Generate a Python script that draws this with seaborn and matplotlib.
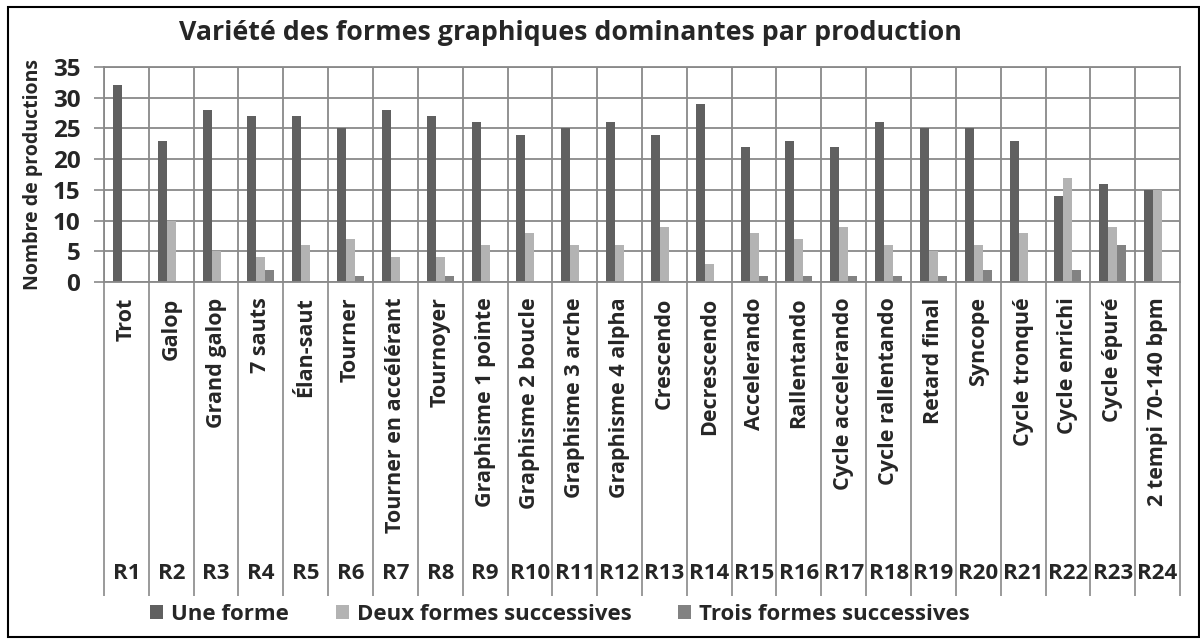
import matplotlib
matplotlib.use("Agg")
import matplotlib.pyplot as plt
import matplotlib.transforms as mtransforms
from matplotlib.patches import Rectangle
import seaborn as sns
import pandas as pd
import numpy as np

# Productions (codes and names)
codes = [f"R{i}" for i in range(1, 25)]
names = [
    "Trot", "Galop", "Grand galop", "7 sauts", "Élan-saut", "Tourner",
    "Tourner en accélérant", "Tournoyer", "Graphisme 1 pointe",
    "Graphisme 2 boucle", "Graphisme 3 arche", "Graphisme 4 alpha",
    "Crescendo", "Decrescendo", "Accelerando", "Rallentando",
    "Cycle accelerando", "Cycle rallentando", "Retard final", "Syncope",
    "Cycle tronqué", "Cycle enrichi", "Cycle épuré", "2 tempi 70-140 bpm",
]

# Number of productions per dominant graphic form
une_forme = [32, 23, 28, 27, 27, 25, 28, 27, 26, 24, 25, 26,
             24, 29, 22, 23, 22, 26, 25, 25, 23, 14, 16, 15]
deux_formes = [0, 10, 5, 4, 6, 7, 4, 4, 6, 8, 6, 6,
               9, 3, 8, 7, 9, 6, 5, 6, 8, 17, 9, 15]
trois_formes = [0, 0, 0, 2, 0, 1, 0, 1, 0, 0, 0, 0,
                0, 0, 1, 1, 1, 1, 1, 2, 0, 2, 6, 0]

series = ["Une forme", "Deux formes successives", "Trois formes successives"]
colors = ["#606060", "#b3b3b3", "#828282"]
yticks = [0, 5, 10, 15, 20, 25, 30, 35]

df = pd.DataFrame({
    "code": codes * 3,
    "serie": np.repeat(series, len(codes)),
    "value": une_forme + deux_formes + trois_formes,
})

sns.set_style("white")
plt.rcParams["font.family"] = ["Open Sans", "DejaVu Sans"]
plt.rcParams["font.weight"] = "bold"

W, H = 1200, 639
fig = plt.figure(figsize=(W / 100, H / 100), dpi=100)
ax = fig.add_axes([104 / W, 1 - 282 / H, (1180 - 104) / W, (282 - 67) / H])

sns.barplot(data=df, x="code", y="value", hue="serie", order=codes,
            hue_order=series, palette=colors, width=0.6, gap=0,
            saturation=1, linewidth=0, ax=ax, legend=True)

grid_col = "#898989"
ax.set_xlim(-0.5, len(codes) - 0.5)
ax.set_ylim(0, 35)
ax.set_yticks(yticks)
ax.set_yticklabels([str(v) for v in yticks], fontsize=17.5, fontweight="bold")
ax.tick_params(axis="y", left=True, length=7, width=1.2, color=grid_col,
               pad=10, direction="out")
ax.yaxis.grid(True, color=grid_col, linewidth=1.3)

# Category boundaries: vertical grid plus separators below the axis
bounds = np.arange(-0.5, len(codes), 1.0)
ax.set_xticks(np.arange(len(codes)))
ax.set_xticklabels(names, rotation=90, fontsize=15.5, fontweight="bold")
ax.set_xticks(bounds, minor=True)
ax.tick_params(axis="x", which="major", bottom=False, length=0, pad=11)
ax.tick_params(axis="x", which="minor", bottom=True, length=226, width=1.2,
               color=grid_col, direction="out")
ax.xaxis.grid(True, which="minor", color=grid_col, linewidth=1.3)
ax.xaxis.grid(False, which="major")
ax.set_axisbelow(True)
for s in ax.spines.values():
    s.set_color(grid_col)
    s.set_linewidth(1.3)

ax.set_xlabel("")
ax.set_ylabel("Nombre de productions", fontsize=14, fontweight="bold", labelpad=7)

# Second level of the category axis: production codes
trans = mtransforms.blended_transform_factory(ax.transData, ax.transAxes)
for i, c in enumerate(codes):
    ax.text(i, -1.355, c, transform=trans, ha="center", va="center",
            fontsize=16, fontweight="bold")

# Legend at the bottom
handles, labels = ax.get_legend_handles_labels()
ax.get_legend().remove()
fig.legend(handles, labels, loc="center", bbox_to_anchor=(560 / W, 1 - 614 / H),
           ncol=3, frameon=False, prop={"weight": "bold", "size": 16},
           handlelength=0.6, handleheight=0.6, handletextpad=0.35,
           columnspacing=2.1)

fig.text(570 / W, 1 - 33 / H,
         "Variété des formes graphiques dominantes par production",
         ha="center", va="center", fontsize=19.3, fontweight="bold")

# Outer frame of the chart area
fig.patches.append(Rectangle((8 / W, 1 - 637 / H), (1199 - 8) / W, (637 - 7) / H,
                             transform=fig.transFigure, fill=False,
                             edgecolor="black", linewidth=1.5))

fig.savefig("out.png", dpi=100)
